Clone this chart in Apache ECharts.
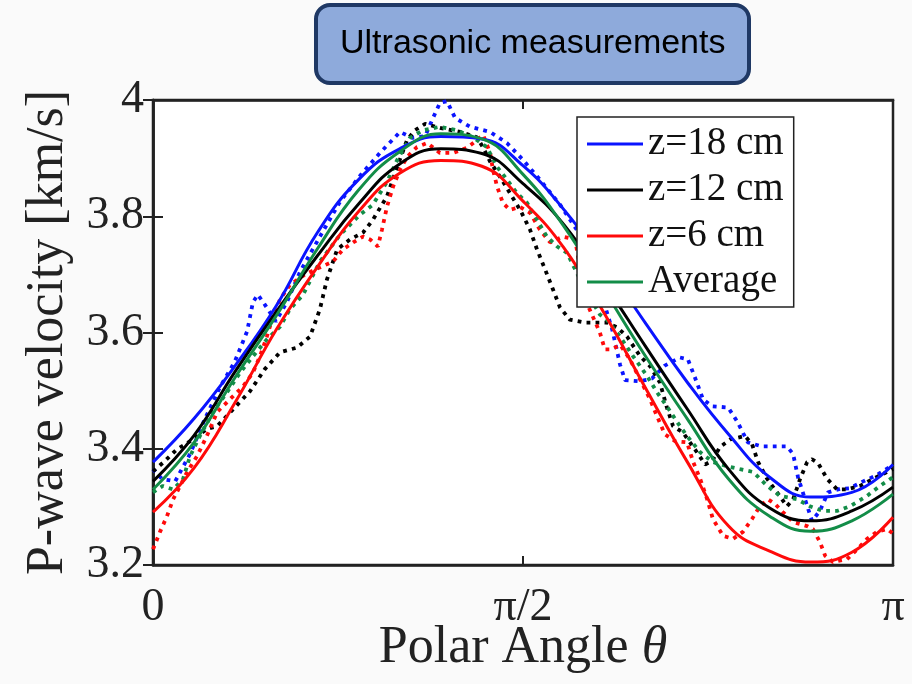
<!DOCTYPE html>
<html lang="en">
<head>
<meta charset="UTF-8">
<title>p_wave_velocity</title>
<script src="https://cdn.jsdelivr.net/npm/echarts@6/dist/echarts.min.js"></script>
</head>
<body style="margin:0;background:#fafafa;">
<div id="chart" style="width:912px;height:684px;"></div>
<script>
// polar angle in degrees (0 .. 180 = 0 .. pi)
var fitAngles = [0, 10, 20, 30, 40, 50, 60, 70, 80, 90, 100, 110, 120, 130, 140, 150, 160, 170, 180];

// fitted curves (km/s)
var fit18 = [3.377, 3.452, 3.543, 3.646, 3.772, 3.863, 3.916, 3.937, 3.933, 3.887, 3.811, 3.717, 3.614, 3.514, 3.425, 3.351, 3.317, 3.325, 3.373];
var fit12 = [3.344, 3.423, 3.533, 3.636, 3.732, 3.821, 3.890, 3.916, 3.908, 3.856, 3.785, 3.682, 3.574, 3.468, 3.365, 3.298, 3.276, 3.293, 3.334];
var fit6 = [3.291, 3.367, 3.480, 3.605, 3.713, 3.808, 3.874, 3.896, 3.886, 3.826, 3.745, 3.630, 3.502, 3.377, 3.267, 3.224, 3.205, 3.222, 3.282];
var fitAvg = [3.330, 3.411, 3.523, 3.629, 3.744, 3.845, 3.911, 3.942, 3.933, 3.872, 3.782, 3.670, 3.557, 3.451, 3.348, 3.284, 3.258, 3.276, 3.322];

// measured (dotted) [angle, velocity]
var meas18 = [[0,3.365],[2.2,3.348],[5.4,3.344],[9,3.391],[12.6,3.451],[16.3,3.506],[19.9,3.55],[22.9,3.602],[24.3,3.652],[25.5,3.665],[27.2,3.648],[29.9,3.619],[32.6,3.653],[35.8,3.705],[40.6,3.765],[45.5,3.825],[50.4,3.87],[55.2,3.909],[60.1,3.945],[63,3.935],[66.2,3.938],[68.1,3.969],[69.8,3.995],[71.5,3.998],[73.5,3.969],[77.1,3.954],[82,3.945],[86.1,3.926],[90,3.897],[94.1,3.863],[99,3.82],[103.9,3.768],[108.7,3.674],[111.7,3.605],[113.6,3.545],[114.8,3.518],[118.5,3.516],[121.4,3.521],[124.5,3.543],[128.2,3.557],[130.1,3.554],[131.8,3.523],[133.8,3.485],[136,3.473],[139.9,3.471],[142.1,3.447],[144.7,3.411],[148.1,3.404],[154.2,3.404],[155.7,3.391],[156.9,3.351],[158.6,3.313],[160.3,3.276],[162.2,3.293],[164.2,3.325],[167.1,3.331],[169.5,3.332],[172.5,3.343],[175.6,3.353],[180,3.372]];
var meas12 = [[0,3.361],[2.9,3.379],[5.8,3.399],[9.7,3.416],[13.1,3.434],[15.6,3.439],[19.5,3.468],[23.6,3.499],[27.2,3.537],[30.9,3.566],[35,3.574],[38.2,3.593],[40.6,3.64],[42.3,3.691],[44.8,3.743],[47.9,3.76],[51.1,3.772],[53.5,3.794],[56.9,3.834],[59.4,3.885],[61.8,3.931],[63.7,3.948],[66.2,3.959],[69.8,3.952],[74.7,3.945],[78.8,3.936],[80.3,3.918],[82,3.894],[84.4,3.868],[86.8,3.84],[89.3,3.811],[91.7,3.777],[93.4,3.743],[95.4,3.708],[97.3,3.674],[99,3.643],[101.4,3.622],[105.1,3.617],[110.4,3.617],[112.9,3.609],[115.3,3.593],[118.5,3.559],[120.9,3.542],[123.3,3.514],[125,3.471],[126.5,3.439],[128.9,3.428],[130.6,3.411],[132.3,3.394],[134.3,3.373],[136,3.379],[137.9,3.403],[140.4,3.416],[144,3.422],[145.7,3.408],[147.2,3.377],[149.4,3.348],[151.8,3.325],[154.2,3.301],[155.7,3.313],[157.4,3.348],[159.1,3.377],[160.3,3.382],[161.8,3.375],[164,3.348],[166.4,3.33],[168.8,3.33],[172,3.336],[175.1,3.348],[180,3.365]];
var meas6 = [[0,3.227],[1.7,3.257],[3.4,3.284],[4.9,3.313],[6.6,3.336],[8.3,3.36],[10.7,3.387],[13.1,3.422],[15.6,3.463],[18.7,3.485],[21.9,3.507],[24.3,3.531],[26,3.559],[27.7,3.593],[29.2,3.628],[30.9,3.657],[33.3,3.682],[37,3.7],[40.6,3.712],[43.8,3.722],[46.2,3.743],[48.7,3.755],[51.1,3.765],[52.8,3.76],[54.7,3.748],[55.7,3.777],[56.9,3.816],[58.4,3.851],[60.1,3.88],[61.8,3.902],[64.2,3.919],[66.7,3.926],[69.8,3.909],[73,3.909],[76.4,3.918],[78.8,3.931],[80.3,3.94],[82,3.909],[82.7,3.88],[83.7,3.851],[85.1,3.823],[86.8,3.811],[89.3,3.816],[91.7,3.806],[94.1,3.777],[96.6,3.755],[99.7,3.765],[102.7,3.76],[105.1,3.657],[107,3.627],[108.7,3.6],[109.9,3.571],[111.7,3.571],[113.6,3.579],[116,3.554],[118.5,3.519],[120.9,3.485],[122.6,3.456],[124.5,3.425],[127,3.413],[129.9,3.411],[131.4,3.377],[133.1,3.348],[134.8,3.313],[136.2,3.279],[138.7,3.25],[141.1,3.245],[143.5,3.257],[145.7,3.279],[147.6,3.301],[149.6,3.313],[151.3,3.305],[153.2,3.291],[155.7,3.274],[159.1,3.267],[160.5,3.262],[162.2,3.24],[163.5,3.216],[165.4,3.205],[168.8,3.21],[171.3,3.227],[173.7,3.245],[176.1,3.257],[178.5,3.262],[180,3.254]];
var measAvg = [[0,3.325],[2.4,3.336],[4.9,3.33],[7.3,3.348],[9,3.387],[11.4,3.422],[14.6,3.463],[18,3.497],[21.2,3.531],[24.3,3.559],[27.7,3.588],[30.9,3.61],[33.3,3.64],[36.5,3.665],[40.6,3.722],[45.5,3.768],[50.4,3.803],[53.5,3.82],[56.9,3.859],[59.4,3.897],[62.5,3.935],[65.7,3.948],[69.8,3.954],[73.9,3.948],[77.8,3.936],[81.2,3.919],[83.7,3.885],[86.1,3.863],[88.5,3.84],[91,3.823],[93.4,3.794],[95.8,3.765],[98.3,3.748],[100.7,3.737],[105.1,3.674],[108.7,3.631],[110.4,3.622],[113.6,3.593],[116.8,3.559],[120.2,3.525],[122.6,3.497],[125,3.473],[127.5,3.446],[129.9,3.422],[133.1,3.394],[136.2,3.377],[139.6,3.37],[142.8,3.365],[146,3.36],[149.4,3.336],[152.5,3.319],[156.7,3.313],[159.8,3.301],[163,3.293],[166.4,3.293],[169.5,3.301],[173.7,3.319],[176.8,3.336],[180,3.351]];

var seriesNames = ['z=18 cm', 'z=12 cm', 'z=6 cm', 'Average'];
var seriesColors = ['#0a14ff', '#000000', '#ff0a0a', '#138d48'];
var angleLabels = {0: '0', 90: 'π/2', 180: 'π'};

var chart = echarts.init(document.getElementById('chart'));

var pair = function (vals) {
    var out = [];
    for (var i = 0; i < vals.length; i++) out.push([fitAngles[i], vals[i]]);
    return out;
};

var fits = [fit18, fit12, fit6, fitAvg];
var meas = [meas18, meas12, meas6, measAvg];
var series = [];

// dotted measurements underneath
for (var i = 0; i < 4; i++) {
    series.push({
        name: 'meas ' + seriesNames[i],
        type: 'line',
        data: meas[i],
        symbol: 'none',
        z: 2,
        lineStyle: {color: seriesColors[i], width: 3.8, type: [3.8, 5.2]}
    });
}
// fitted curves on top
for (var i = 0; i < 4; i++) {
    series.push({
        name: seriesNames[i],
        type: 'line',
        data: pair(fits[i]),
        smooth: 0.45,
        symbol: 'none',
        z: 3,
        itemStyle: {color: seriesColors[i]},
        lineStyle: {color: seriesColors[i], width: 3}
    });
}

var serif = 'Liberation Serif';

var option = {
    backgroundColor: '#fafafa',
    animation: false,
    title: {
        text: 'Ultrasonic measurements',
        left: 316,
        top: 5,
        padding: [22, 24],
        backgroundColor: '#8eaadb',
        borderColor: '#1f3864',
        borderWidth: 4,
        borderRadius: 14,
        textStyle: {fontFamily: 'Liberation Sans', fontSize: 34, fontWeight: 'normal', color: '#000'}
    },
    legend: {
        data: seriesNames,
        orient: 'vertical',
        left: 577,
        top: 117,
        padding: [6, 10, 4, 10],
        icon: 'rect',
        itemGap: 4,
        itemWidth: 56,
        itemHeight: 3,
        backgroundColor: '#fff',
        borderColor: '#222',
        borderWidth: 1.5,
        textStyle: {fontFamily: serif, fontSize: 39, color: '#111', lineHeight: 42}
    },
    grid: {
        left: 153, right: 19, top: 100, bottom: 119,
        outerBoundsMode: 'none',
        show: true,
        backgroundColor: '#fff',
        borderColor: '#222',
        borderWidth: 2.5
    },
    xAxis: [{
        type: 'value',
        min: 0, max: 180, interval: 90,
        name: 'Polar Angle {i|θ}',
        nameLocation: 'middle',
        nameMoveOverlap: false,
        nameGap: 57,
        nameTextStyle: {
            fontFamily: serif, fontSize: 52, color: '#222',
            rich: {i: {fontFamily: serif, fontStyle: 'italic', fontSize: 52, color: '#222'}}
        },
        axisLine: {lineStyle: {color: '#222', width: 2.5}},
        axisTick: {inside: true, length: 9, lineStyle: {color: '#222', width: 2}},
        splitLine: {show: false},
        axisLabel: {
            margin: 20,
            fontFamily: serif, fontSize: 46, color: '#222',
            formatter: function (v) { return angleLabels[v]; }
        }
    }, {
        type: 'value', position: 'top',
        min: 0, max: 180, interval: 90,
        axisLine: {lineStyle: {color: '#222', width: 2.5}},
        axisTick: {inside: true, length: 9, lineStyle: {color: '#222', width: 2}},
        axisLabel: {show: false},
        splitLine: {show: false}
    }],
    yAxis: [{
        type: 'value',
        min: 3.2, max: 4, interval: 0.2,
        name: 'P-wave velocity [km/s]',
        nameLocation: 'middle',
        nameMoveOverlap: false,
        nameGap: 79,
        nameTextStyle: {fontFamily: serif, fontSize: 52, color: '#222'},
        axisLine: {lineStyle: {color: '#222', width: 2.5}},
        axisTick: {inside: true, length: 10, lineStyle: {color: '#222', width: 2}},
        splitLine: {show: false},
        axisLabel: {
            margin: 9,
            fontFamily: serif, fontSize: 46, color: '#222',
            formatter: function (v) { return Math.abs(v - 4) < 1e-9 ? '4' : v.toFixed(1); }
        }
    }, {
        type: 'value', position: 'right',
        min: 3.2, max: 4, interval: 0.2,
        axisLine: {lineStyle: {color: '#222', width: 2.5}},
        axisTick: {inside: true, length: 10, lineStyle: {color: '#222', width: 2}},
        axisLabel: {show: false},
        splitLine: {show: false}
    }],
    series: series
};

chart.setOption(option);
</script>
</body>
</html>
